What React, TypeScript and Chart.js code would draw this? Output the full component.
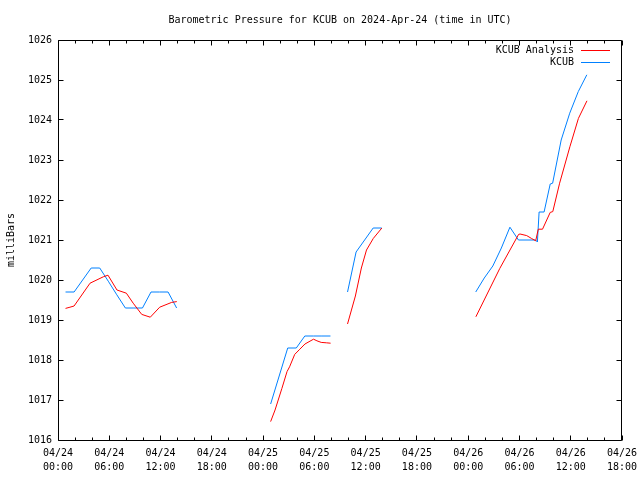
import React, { useEffect, useRef } from 'react';
import { Chart, registerables } from 'chart.js';

Chart.register(...registerables);

const TITLE = 'Barometric Pressure for KCUB on 2024-Apr-24 (time in UTC)';
const Y_LABEL = 'milliBars';
const DAY_LABELS = ['04/24', '04/25', '04/26', '04/27'];
const X_MIN = 0; // hours since 2024-04-24 00:00 UTC
const X_MAX = 66;
const Y_MIN = 1016;
const Y_MAX = 1026;

const SERIES_NAMES = ['KCUB Analysis', 'KCUB'];
const SERIES_COLORS = ['#ff0000', '#0080ff'];

// KCUB Analysis (null = gap between segments)
const analysisHours = [
  0.88, 1.4, 1.88, 3.75, 5.3, 5.85, 6.9, 8.0, 8.8, 9.8, 10.8, 11.9, 13.3, 13.9,
  19,
  24.88, 25.4, 26.2, 26.8, 27.1, 27.7, 28.3, 28.9, 29.9, 30.3, 30.8, 31.4, 31.9,
  32.9,
  33.88, 34.8, 35.5, 36.1, 36.9, 37.9,
  43,
  48.9, 51.7, 53.9, 54.07, 54.85, 55.4, 55.9, 56.2, 56.7, 57.6, 57.9, 58.7, 59.9, 60.9, 61.9,
];
const analysisValues = [
  1019.29, 1019.32, 1019.35, 1019.92, 1020.08, 1020.12, 1019.75, 1019.67, 1019.42, 1019.14, 1019.07, 1019.32, 1019.44, 1019.46,
  null,
  1016.46, 1016.75, 1017.29, 1017.71, 1017.83, 1018.14, 1018.27, 1018.4, 1018.52, 1018.48, 1018.44, 1018.43, 1018.42,
  null,
  1018.9, 1019.6, 1020.3, 1020.75, 1021.04, 1021.3,
  null,
  1019.08, 1020.29, 1021.14, 1021.15, 1021.11, 1021.04, 1020.98, 1021.27, 1021.27, 1021.69, 1021.71, 1022.42, 1023.33, 1024.04, 1024.48,
];

// KCUB observations (null = gap between segments)
const kcubHours = [
  0.883, 1.883, 2.883, 3.883, 4.883, 5.883, 6.883, 7.883, 8.883, 9.883, 10.883, 11.883, 12.883, 13.883,
  19,
  24.883, 25.883, 26.883, 27.883, 28.883, 29.883, 30.883, 31.883,
  32.9,
  33.883, 34.883, 35.883, 36.883, 37.883,
  43,
  48.883, 49.883, 50.883, 51.883, 52.883, 53.883, 54.883, 55.883, 56.1, 56.3, 56.883, 57.6, 57.883, 58.883, 59.883, 60.883, 61.883,
];
const kcubValues = [
  1019.7, 1019.7, 1020.0, 1020.3, 1020.3, 1019.97, 1019.63, 1019.3, 1019.3, 1019.3, 1019.7, 1019.7, 1019.7, 1019.3,
  null,
  1016.9, 1017.6, 1018.3, 1018.3, 1018.6, 1018.6, 1018.6, 1018.6,
  null,
  1019.7, 1020.7, 1021.0, 1021.3, 1021.3,
  null,
  1019.7, 1020.05, 1020.35, 1020.8, 1021.32, 1021.0, 1021.0, 1021.0, 1020.95, 1021.7, 1021.7, 1022.4, 1022.42, 1023.5, 1024.17, 1024.71, 1025.13,
];

const FONT = 'DejaVu Sans Mono';

const toPoints = (xs: number[], ys: (number | null)[]) =>
  xs.map((x, i) => ({ x, y: ys[i] }));

const decorPlugin = {
  id: 'gnuplotDecor',
  afterDraw(chart: any) {
    const ctx = chart.ctx as CanvasRenderingContext2D;
    const { left, right, top, bottom } = chart.chartArea;
    const xs = chart.scales.x;
    const ys = chart.scales.y;
    ctx.save();
    ctx.strokeStyle = '#000';
    ctx.lineWidth = 1;
    const L = Math.floor(left) + 0.5;
    const R = Math.ceil(right) - 0.5;
    const T = Math.floor(top) + 0.5;
    const B = Math.floor(bottom) + 0.5;
    ctx.beginPath();
    ctx.rect(L, T, R - L, B - T);
    // x ticks every 2 hours, major every 6
    for (let h = X_MIN; h <= X_MAX; h += 2) {
      const px = Math.floor(xs.getPixelForValue(h)) + 0.5;
      const len = h % 6 === 0 ? 5 : 3;
      ctx.moveTo(px, B);
      ctx.lineTo(px, B - len);
      ctx.moveTo(px, T);
      ctx.lineTo(px, T + len);
    }
    for (let v = Y_MIN; v <= Y_MAX; v += 1) {
      const py = Math.floor(ys.getPixelForValue(v)) + 0.5;
      ctx.moveTo(L, py);
      ctx.lineTo(L + 5, py);
      ctx.moveTo(R, py);
      ctx.lineTo(R - 5, py);
    }
    ctx.stroke();

    ctx.fillStyle = '#000';
    ctx.font = `10px "${FONT}"`;
    // title
    ctx.textAlign = 'center';
    ctx.textBaseline = 'middle';
    ctx.fillText(TITLE, (left + right) / 2, 20);
    // y label
    ctx.save();
    ctx.translate(11, (top + bottom) / 2);
    ctx.rotate(-Math.PI / 2);
    ctx.fillText(Y_LABEL, 0, 0);
    ctx.restore();
    // legend
    ctx.textAlign = 'right';
    chart.data.datasets.forEach((ds: any, i: number) => {
      const y = 50 + i * 12;
      ctx.fillStyle = '#000';
      ctx.fillText(ds.label, right - 48, y);
      ctx.strokeStyle = ds.borderColor;
      ctx.beginPath();
      ctx.moveTo(right - 41, Math.floor(y) + 0.5);
      ctx.lineTo(right - 12, Math.floor(y) + 0.5);
      ctx.stroke();
    });
    ctx.restore();
  },
};

export default function App() {
  const ref = useRef<HTMLCanvasElement | null>(null);
  useEffect(() => {
    if (!ref.current) return;
    const chart = new Chart(ref.current, {
      type: 'line',
      data: {
        datasets: [
          {
            label: SERIES_NAMES[0],
            data: toPoints(analysisHours, analysisValues),
            borderColor: SERIES_COLORS[0],
            backgroundColor: SERIES_COLORS[0],
            borderWidth: 1,
            pointRadius: 0,
            tension: 0,
            spanGaps: false,
          },
          {
            label: SERIES_NAMES[1],
            data: toPoints(kcubHours, kcubValues),
            borderColor: SERIES_COLORS[1],
            backgroundColor: SERIES_COLORS[1],
            borderWidth: 1,
            pointRadius: 0,
            tension: 0,
            spanGaps: false,
          },
        ],
      },
      options: {
        responsive: false,
        animation: false,
        devicePixelRatio: 1,
        layout: { padding: { top: 40, right: 18, left: 0, bottom: 0 } },
        plugins: {
          legend: { display: false },
          title: { display: false },
          tooltip: { enabled: false },
        },
        scales: {
          x: {
            type: 'linear',
            min: X_MIN,
            max: X_MAX,
            grid: { display: false, drawTicks: false },
            border: { display: false },
            afterFit: (s: any) => {
              s.height = 40;
              s.paddingLeft = 0;
              s.paddingRight = 0;
            },
            ticks: {
              stepSize: 6,
              autoSkip: false,
              maxRotation: 0,
              minRotation: 0,
              padding: 6,
              color: '#000',
              font: { family: FONT, size: 10, lineHeight: 1.4 },
              callback: (v: any) => {
                const n = Number(v);
                const day = Math.floor(n / 24);
                const hr = n - day * 24;
                return [DAY_LABELS[day], String(hr).padStart(2, '0') + ':00'];
              },
            },
          },
          y: {
            type: 'linear',
            min: Y_MIN,
            max: Y_MAX,
            grid: { display: false, drawTicks: false },
            border: { display: false },
            afterFit: (s: any) => {
              s.width = 58;
              s.paddingTop = 0;
              s.paddingBottom = 0;
            },
            ticks: {
              stepSize: 1,
              padding: 6,
              color: '#000',
              font: { family: FONT, size: 10 },
              callback: (v: any) => String(v),
            },
          },
        },
      },
      plugins: [decorPlugin],
    });
    return () => chart.destroy();
  }, []);
  return (
    <div style={{ position: 'absolute', left: 0, top: 0, width: 640, height: 480, background: '#fff' }}>
      <canvas ref={ref} width={640} height={480} />
    </div>
  );
}
